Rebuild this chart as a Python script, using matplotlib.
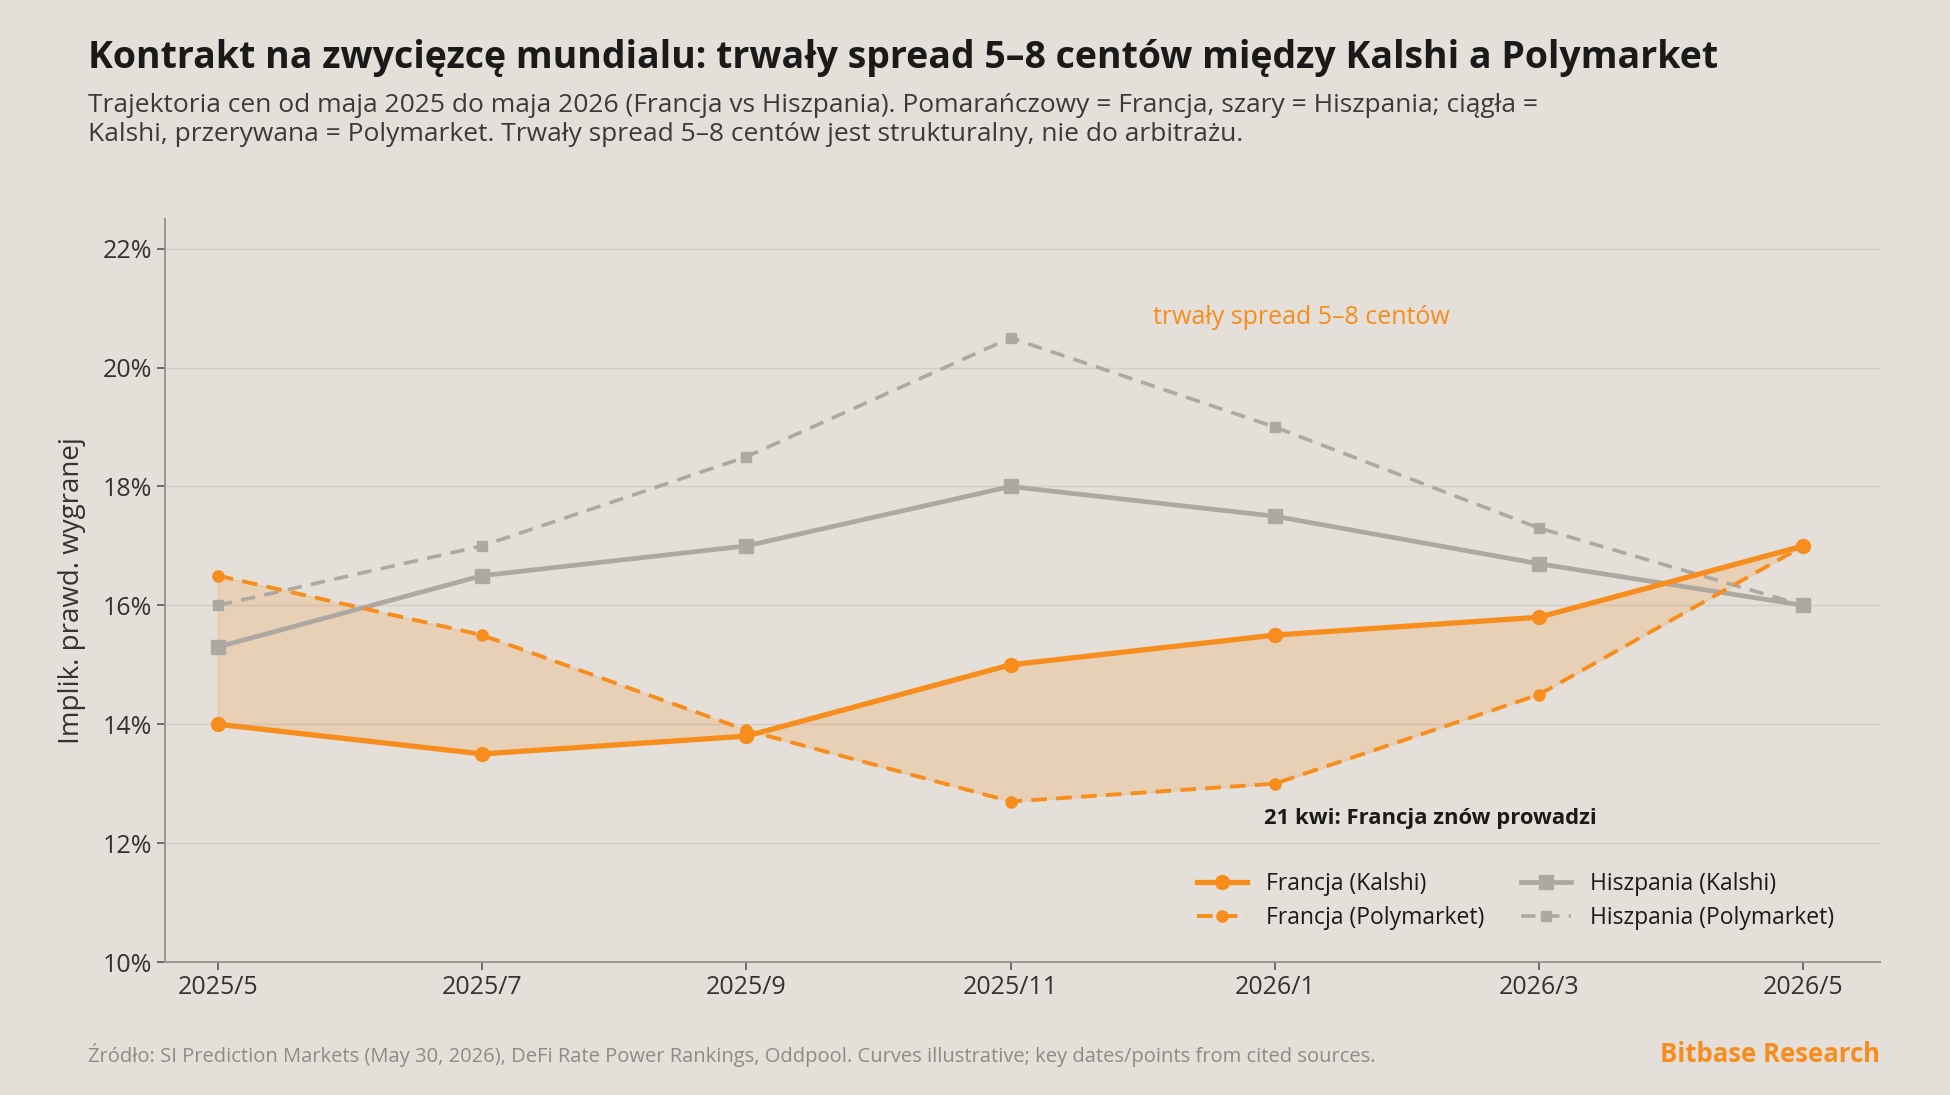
import numpy as np
import matplotlib.pyplot as plt

plt.rcParams['font.family'] = ['Open Sans', 'DejaVu Sans']

# data (implied win probability, %)
months = ['2025/5', '2025/7', '2025/9', '2025/11', '2026/1', '2026/3', '2026/5']
fr_kalshi = [14.0, 13.5, 13.8, 15.0, 15.5, 15.8, 17.0]
fr_poly = [16.5, 15.5, 13.9, 12.7, 13.0, 14.5, 17.0]
es_kalshi = [15.3, 16.5, 17.0, 18.0, 17.5, 16.7, 16.0]
es_poly = [16.0, 17.0, 18.5, 20.5, 19.0, 17.3, 16.0]
yticks = [10, 12, 14, 16, 18, 20, 22]

bg = '#E4DFD9'
orange = '#F68D1C'
grey = '#ADA8A2'

fig = plt.figure(figsize=(19.5, 10.95), dpi=100, facecolor=bg)
ax = fig.add_axes([165/1950, 1 - 962/1095, (1880-165)/1950, (962-219)/1095])
ax.set_facecolor(bg)

x = np.arange(len(months))
ax.fill_between(x, fr_kalshi, fr_poly, color=orange, alpha=0.18, lw=1)
ax.plot(x, es_poly, color=grey, lw=2.6, ls=(0, (4, 2.6)), marker='s', ms=7,
        label='Hiszpania (Polymarket)', zorder=3)
ax.plot(x, es_kalshi, color=grey, lw=3.4, marker='s', ms=9.5,
        label='Hiszpania (Kalshi)', zorder=3)
ax.plot(x, fr_poly, color=orange, lw=2.8, ls=(0, (4, 2.4)), marker='o', ms=8,
        label='Francja (Polymarket)', zorder=4)
ax.plot(x, fr_kalshi, color=orange, lw=3.8, marker='o', ms=10,
        label='Francja (Kalshi)', zorder=4)

ax.set_xlim(-0.2, 6.29)
ax.set_ylim(10, 22.5)
ax.set_xticks(x)
ax.set_xticklabels(months)
ax.set_yticks(yticks)
ax.set_yticklabels([f'{v}%' for v in yticks])
ax.tick_params(labelsize=18, colors='#555', labelcolor='#333', length=6, width=1.2)
ax.grid(axis='y', color='#D2CDC7', lw=1)
ax.set_axisbelow(True)
for s in ['top', 'right']:
    ax.spines[s].set_visible(False)
for s in ['left', 'bottom']:
    ax.spines[s].set_color('#9A9590')
    ax.spines[s].set_linewidth(1.4)
ax.set_ylabel('Implik. prawd. wygranej', fontsize=20, color='#333', labelpad=12)

ax.text(4.1, 20.85, 'trwały spread 5–8 centów', color=orange, fontsize=18,
        ha='center', va='center')
ax.text(4.59, 12.42, '21 kwi: Francja znów prowadzi', color='#1a1a1a', fontsize=15.8,
        fontweight='bold', ha='center', va='center')

h, l = ax.get_legend_handles_labels()
order = [3, 2, 1, 0]
ax.legend([h[i] for i in order], [l[i] for i in order], ncol=2, frameon=False,
          fontsize=16.5, loc='lower right', bbox_to_anchor=(0.985, 0.015),
          columnspacing=1.6, handlelength=2.2, labelspacing=0.45, labelcolor='#1a1a1a')

fig.text(88/1950, 1 - 58/1095, 'Kontrakt na zwycięzcę mundialu: trwały spread 5–8 centów między Kalshi a Polymarket',
         fontsize=27, fontweight='bold', color='#1a1a1a', va='center')
fig.text(88/1950, 1 - 120/1095,
         'Trajektoria cen od maja 2025 do maja 2026 (Francja vs Hiszpania). Pomarańczowy = Francja, szary = Hiszpania; ciągła =\n'
         'Kalshi, przerywana = Polymarket. Trwały spread 5–8 centów jest strukturalny, nie do arbitrażu.',
         fontsize=19, color='#3a3a3a', va='center', linespacing=1.2)
fig.text(88/1950, 1 - 1055/1095,
         'Źródło: SI Prediction Markets (May 30, 2026), DeFi Rate Power Rankings, Oddpool. Curves illustrative; key dates/points from cited sources.',
         fontsize=14.5, color='#8f8a85', va='center')
fig.text(1880/1950, 1 - 1055/1095, 'Bitbase Research', fontsize=18.5, fontweight='bold',
         color=orange, ha='right', va='center')

plt.savefig('out.png', dpi=100, facecolor=bg)
